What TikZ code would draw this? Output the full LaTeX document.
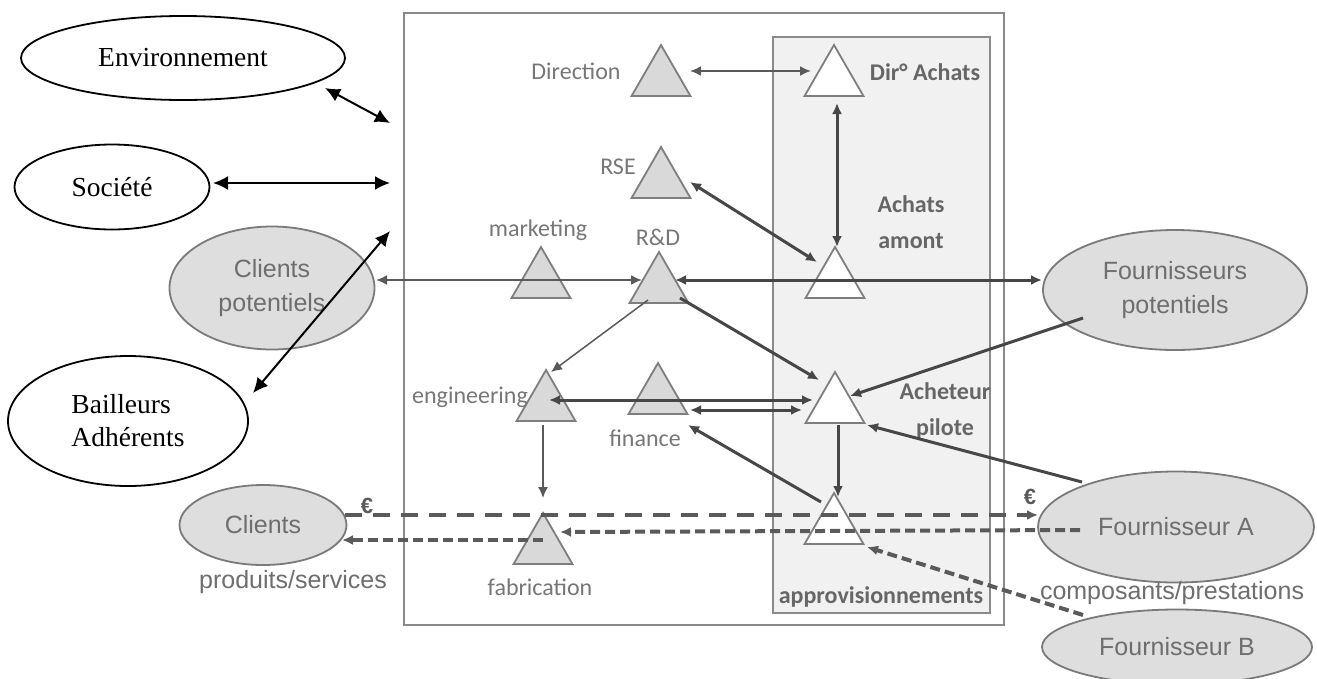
\documentclass[tikz,border=0pt]{standalone}
\usepackage{fontspec}
\setmainfont{Liberation Serif}
\newfontfamily\carl{Carlito}
\newfontfamily\ari{Liberation Sans}
\usetikzlibrary{shapes.geometric,arrows.meta,calc}
\definecolor{trif}{HTML}{D9D9D9}
\definecolor{trib}{HTML}{7E7E7E}
\definecolor{labc}{HTML}{777777}
\definecolor{blabc}{HTML}{666666}
\definecolor{ellf}{HTML}{DEDEDE}
\definecolor{ellb}{HTML}{7A7A7A}
\definecolor{ellt}{HTML}{6E6E6E}
\definecolor{lnc}{HTML}{474747}
\definecolor{lnc2}{HTML}{5A5A5A}
\definecolor{boxb}{HTML}{8A8A8A}
\definecolor{boxf}{HTML}{F1F1F1}
\begin{document}
\begin{tikzpicture}[x=1pt,y=-1pt,
  tri/.style={regular polygon, regular polygon sides=3, minimum size=68pt, inner sep=0pt, outer sep=0pt, draw=trib, line width=1.8pt, fill=trif},
  wtri/.style={tri, fill=white},
  lab/.style={font=\carl\fontsize{24}{24}\selectfont, text=labc, inner sep=0pt},
  blab/.style={font=\carl\bfseries\fontsize{24}{36}\selectfont, text=blabc, inner sep=0pt, align=center},
  gell/.style={ellipse, draw=ellb, fill=ellf, line width=1.8pt, inner sep=0pt, font=\ari\fontsize{25}{34}\selectfont, text=ellt, align=center},
  bell/.style={ellipse, draw=black, fill=white, line width=1.8pt, inner sep=0pt, font=\fontsize{27.5}{33}\selectfont},
  glab/.style={font=\ari\fontsize{25}{25}\selectfont, text=ellt, inner sep=0pt},
  eur/.style={font=\ari\bfseries\fontsize{22}{22}\selectfont, text=lnc2, inner sep=0pt},
  thk/.style={draw=lnc, line width=3pt},
  med/.style={draw=lnc2, line width=2pt},
  thn/.style={draw=lnc2, line width=1.5pt},
  dsa/.style={draw=lnc2, line width=4pt, dash pattern=on 17pt off 11pt},
  dsb/.style={draw=lnc2, line width=4pt, dash pattern=on 10pt off 5pt},
  blk/.style={draw=black, line width=2pt, {Latex[length=15pt,width=14pt]}-{Latex[length=15pt,width=14pt]}},
  >={Latex[length=11pt,width=10pt]}
]
\useasboundingbox (0,0) rectangle (1317,678);
\fill[white] (0,0) rectangle (1317,678);

% boxes
\node[draw=boxb, line width=1.8pt, minimum width=600pt, minimum height=612pt, inner sep=0pt] (outer) at (704,319) {};
\node[draw=boxb, fill=boxf, line width=1.8pt, minimum width=217pt, minimum height=576pt, inner sep=0pt] (inner) at (881.5,325) {};

% outside ellipses
\node[bell, minimum width=324pt, minimum height=84pt] (env) at (183,58) {Environnement};
\node[bell, minimum width=195pt, minimum height=85pt] (soc) at (112,187) {Société};
\node[bell, minimum width=240pt, minimum height=130pt, align=left] (bail) at (128,421) {Bailleurs\\Adhérents};
\node[gell, minimum width=205pt, minimum height=123pt] (cpot) at (272,288) {Clients\\potentiels};
\node[gell, minimum width=167pt, minimum height=80pt] (cli) at (263,525) {Clients};
\node[gell, minimum width=264pt, minimum height=120pt] (fpot) at (1175,290) {Fournisseurs\\potentiels};
\node[gell, minimum width=276pt, minimum height=111pt] (fa) at (1176,527) {Fournisseur A};
\node[gell, minimum width=270pt, minimum height=75pt] (fb) at (1177,647) {Fournisseur B};

% triangles
\node[tri]  (dir)   at (661,79)  {};
\node[wtri] (dira)  at (834,79)  {};
\node[tri]  (rse)   at (661,181) {};
\node[tri]  (mkt)   at (541,281) {};
\node[tri]  (rd)    at (659,286) {};
\node[wtri] (amont) at (835,281) {};
\node[tri]  (eng)   at (546,404) {};
\node[tri]  (fin)   at (658,397) {};
\node[wtri] (pil)   at (835,406) {};
\node[tri]  (fab)   at (543,547) {};
\node[wtri] (appro) at (834,527) {};

% labels
\node[lab] (lDir) at (576,71) {Direction};
\node[blab] (lDira) at (925,72) {Dir° Achats};
\node[lab] (lRse) at (618,167) {RSE};
\node[lab] (lMkt) at (538,230) {marketing};
\node[lab] (lRd) at (658,237) {R\&D};
\node[blab] (lAmont) at (911,222) {Achats\\amont};
\node[lab] (lEng) at (470,397) {engineering};
\node[lab] (lFin) at (645,438) {finance};
\node[blab] (lPil) at (945,411) {Acheteur\\pilote};
\node[lab] (lFab) at (540,587) {fabrication};
\node[blab] (lAppro) at (881,597) {approvisionnements};
\node[glab] (lProd) at (293,582) {produits/services};
\node[glab] (lComp) at (1172,593) {composants/prestations};

% free ends near the company box
\coordinate (c1) at (390,123);
\coordinate (c2) at (390,183);
\coordinate (c3) at (390,231);

% black arrows
\draw[blk] ($(env)+(142,30)$) -- (c1);
\draw[blk] ($(soc)+(101,-4)$) -- (c2);
\draw[blk] ($(bail)+(125,-28)$) -- (c3);

% gray connectors
\draw[med,<->] ($(dir)+(29,-8)$) -- ($(dira)+(-23,-8)$);
\draw[thk,<->] ($(dira)+(3,24)$) -- ($(amont)+(2,-34)$);
\draw[thk,<->] ($(rse)+(29,1)$) -- ($(amont)+(-18,-19)$);
\draw[med,<->] ($(cpot)+(104,-8)$) -- ($(rd)+(-17,-6)$);
\draw[thk,<->] ($(rd)+(16,-6)$) -- ($(fpot)+(-133,-10)$);
\draw[thn,->] ($(rd)+(-11,14)$) -- ($(eng)+(5,-32)$);
\draw[thk,->] ($(rd)+(21,12)$) -- ($(pil)+(-16,-26)$);
\draw[thk,->] ($(fpot)+(-92,28)$) -- ($(pil)+(15,-10)$);
\draw[thk,<->] ($(eng)+(3,-4)$) -- ($(pil)+(-22,-6)$);
\draw[thk,<->] ($(fin)+(32,13)$) -- ($(pil)+(-33,4)$);
\draw[thn,->] ($(eng)+(-3,21)$) -- ($(fab)+(0,-49)$);
\draw[thk,->] ($(pil)+(3,19)$) -- ($(appro)+(4,-30)$);
\draw[thk,->] ($(fa)+(-94,-45)$) -- ($(pil)+(32,19)$);
\draw[thk,->] ($(appro)+(-13,-25)$) -- ($(fin)+(30,28)$);

% flows (dashed)
\draw[dsa,->] ($(cli)+(82,-10)$) -- ($(fa)+(-138,-12)$);
\draw[dsb,->] ($(fa)+(-96,3)$) -- ($(fab)+(17,-15)$);
\draw[dsb,->] ($(fab)+(0,-7)$) -- ($(cli)+(79,15)$);
\draw[dsb,->] ($(fb)+(-94,-32)$) -- ($(appro)+(33,20)$);

\node[eur] (e1) at (367,506) {€};
\node[eur] (e2) at (1030,497) {€};
\end{tikzpicture}
\end{document}
